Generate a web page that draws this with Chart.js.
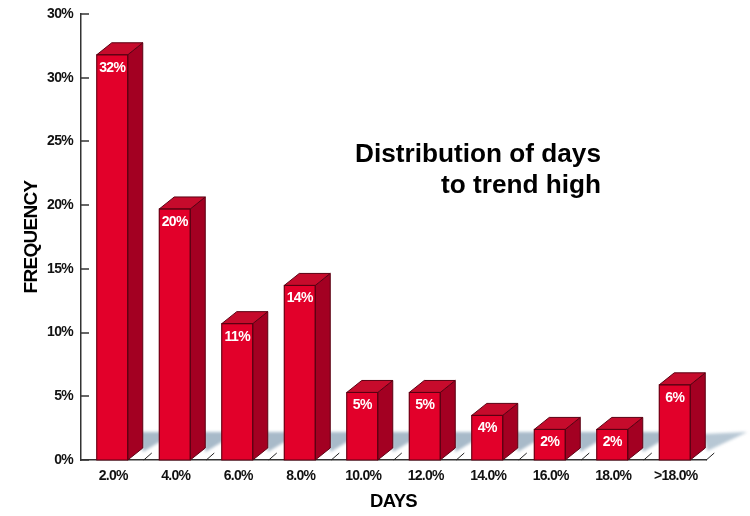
<!DOCTYPE html>
<html><head><meta charset="utf-8">
<style>html,body{margin:0;padding:0;background:#fff}#w{width:750px;height:516px}</style>
<script src="https://cdn.jsdelivr.net/npm/chart.js@4/dist/chart.umd.min.js"></script>
</head><body><div id="w"><canvas id="c" width="750" height="516"></canvas></div>
<script>
const categories = ['2.0%','4.0%','6.0%','8.0%','10.0%','12.0%','14.0%','16.0%','18.0%','>18.0%'];
const values = [31.8,19.7,10.7,13.7,5.3,5.3,3.5,2.4,2.4,5.9];
const valueLabels = ['32%','20%','11%','14%','5%','5%','4%','2%','2%','6%'];
const yTicks = {0:'0%',5:'5%',10:'10%',15:'15%',20:'20%',25:'25%',30:'30%',35:'30%'};
const titleLines = ['Distribution of days','to trend high'];
const axisX = 'DAYS', axisY = 'FREQUENCY';
const SANS = '"Liberation Sans",Arial,sans-serif';
const DX = 15, DY = 12;
const AXIS = '#333', EDGE = '#5a0012';

function poly(ctx, pts, fill, stroke){
  ctx.beginPath(); pts.forEach((p,i)=> i?ctx.lineTo(p[0],p[1]):ctx.moveTo(p[0],p[1])); ctx.closePath();
  if(fill){ctx.fillStyle=fill;ctx.fill();}
  if(stroke){ctx.strokeStyle=stroke;ctx.lineWidth=1;ctx.stroke();}
}
const threeD = {
  id:'threeD',
  beforeDraw(chart){ chart.ctx.letterSpacing='-0.7px'; },
  beforeDatasetsDraw(chart){
    const {ctx} = chart, els = chart.getDatasetMeta(0).data;
    ctx.save();
    ctx.letterSpacing='0px';
    // inward y-axis ticks
    const ys = chart.scales.y;
    ctx.strokeStyle=AXIS;ctx.lineWidth=1.5;
    Object.keys(yTicks).forEach(v=>{
      const y = Math.round(ys.getPixelForValue(+v));
      ctx.beginPath();ctx.moveTo(ys.right,y);ctx.lineTo(ys.right+8,y);ctx.stroke();
    });
    // floor shadows
    ctx.save();
    ctx.filter='blur(1.5px)';
    els.forEach((el,i)=>{
      const r = el.x+el.width/2, b = el.base, bx = r+DX, by = b-DY;
      if(i<els.length-1){
        const next = els[i+1].x-el.width/2+2;
        poly(ctx,[[bx-2,by-16],[next,by-16],[next,by-7],[bx,by+4]],'#a8bac9');
      } else {
        poly(ctx,[[bx-2,by-14],[bx+42,by-16],[bx+2,by+3]],'#b7c7d4');
      }
    });
    ctx.restore();
    // floor slashes
    els.forEach(el=>{
      const r = el.x+el.width/2, b = el.base;
      ctx.strokeStyle='#222';ctx.lineWidth=1;ctx.beginPath();
      ctx.moveTo(r+16,b);ctx.lineTo(r+24,b-7);ctx.stroke();
    });
    ctx.restore();
  },
  afterDatasetsDraw(chart){
    const {ctx} = chart, els = chart.getDatasetMeta(0).data;
    ctx.save();
    els.forEach((el,i)=>{
      const l = el.x-el.width/2, r = el.x+el.width/2, t = el.y, b = el.base;
      poly(ctx,[[r,t],[r+DX,t-DY],[r+DX,b-DY],[r,b]],'#a30022',EDGE);
      poly(ctx,[[l,t],[l+DX,t-DY],[r+DX,t-DY],[r,t]],'#c60b2c',EDGE);
      ctx.strokeStyle=EDGE;ctx.lineWidth=1;ctx.strokeRect(l,t,el.width,b-t);
      ctx.fillStyle='#fff';ctx.font='bold 14px '+SANS;ctx.textAlign='center';ctx.textBaseline='middle';
      ctx.letterSpacing='-0.6px';
      ctx.fillText(valueLabels[i],el.x,t+13);
    });
    ctx.letterSpacing='0px';
    ctx.fillStyle='#000';ctx.font='bold 26.2px '+SANS;ctx.textAlign='right';ctx.textBaseline='alphabetic';
    ctx.fillText(titleLines[0],601,162);
    ctx.fillText(titleLines[1],601,193);
    ctx.restore();
  }
};
new Chart(document.getElementById('c'),{
  type:'bar',
  data:{labels:categories,datasets:[{data:values,backgroundColor:'#e2002a',barThickness:31,borderWidth:0}]},
  options:{
    responsive:false,animation:false,
    layout:{autoPadding:false,padding:{left:0,right:44,top:14,bottom:0}},
    plugins:{legend:{display:false},tooltip:{enabled:false}},
    scales:{
      x:{
        border:{color:AXIS,width:1.5},
        grid:{display:false,drawTicks:false},
        ticks:{color:'#111',font:{family:SANS,weight:'bold',size:14},padding:8,maxRotation:0,autoSkip:false,labelOffset:1},
        afterFit(s){s.height=56;},
        title:{display:true,text:axisX,color:'#000',font:{family:SANS,weight:'bold',size:18.5},padding:{top:8,bottom:3}}
      },
      y:{
        min:0,max:35,
        border:{color:AXIS,width:1.5},
        grid:{display:false,drawTicks:false,drawOnChartArea:false},
        ticks:{stepSize:5,color:'#111',font:{family:SANS,weight:'bold',size:14},padding:8,callback:v=>yTicks[v]},
        afterFit(s){s.width=81;s.paddingTop=0;s.paddingBottom=0;},
        title:{display:true,text:axisY,color:'#000',font:{family:SANS,weight:'bold',size:19},padding:{top:20,bottom:0}}
      }
    }
  },
  plugins:[threeD]
});
</script></body></html>
